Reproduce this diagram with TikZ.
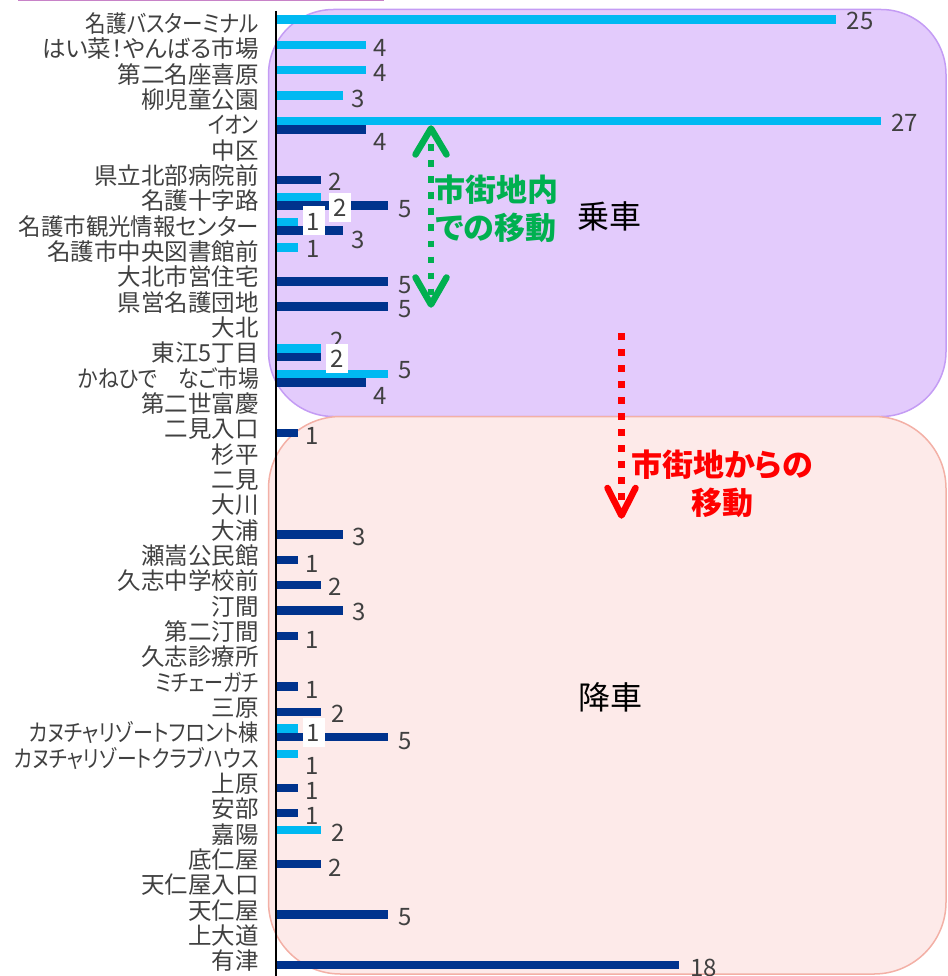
\documentclass[tikz,border=0pt]{standalone}
\usepackage{graphicx}
\usepackage{fontspec}
\newfontfamily\jp[RawFeature=+palt]{Noto Sans CJK JP}
\definecolor{lblue}{RGB}{0,185,242}
\definecolor{dblue}{RGB}{0,51,141}
\definecolor{txtgray}{RGB}{64,64,64}
\definecolor{purpfill}{RGB}{227,203,252}
\definecolor{purpline}{RGB}{196,156,244}
\definecolor{pinkfill}{RGB}{253,234,233}
\definecolor{pinkline}{RGB}{243,176,166}
\definecolor{ggreen}{RGB}{0,176,80}
\definecolor{rred}{RGB}{255,0,0}
\definecolor{topline}{RGB}{200,130,200}
\tikzset{
  catlabel/.style={font=\jp\fontsize{23.5}{28}\selectfont, text=txtgray, anchor=east, inner sep=0pt, text height=20.7pt, text depth=2.8pt},
  vlabel/.style={font=\jp\fontsize{24}{28}\selectfont, text=txtgray, anchor=center, inner sep=0pt, text height=21.1pt, text depth=2.9pt},
  wlabel/.style={vlabel, fill=white, minimum width=22pt, minimum height=29pt},
  purpbox/.style={fill=purpfill, draw=purpline, line width=1.5pt, rounded corners=65pt},
  pinkbox/.style={fill=pinkfill, draw=pinkline, line width=1.5pt, rounded corners=72pt},
  axisline/.style={draw=black, line width=1.8pt},
  lbar/.style={fill=lblue},
  dbar/.style={fill=dblue},
  dotline/.style={line width=6.5pt, dash pattern=on 6.5pt off 9.5pt},
  chevron/.style={line width=6.5pt, line cap=round, line join=round},
  annot/.style={font=\jp\bfseries\fontsize{31}{38}\selectfont, align=center, inner sep=0pt},
  bigtext/.style={font=\jp\fontsize{32}{38}\selectfont, text=black, inner sep=0pt}
}
\begin{document}
\begin{tikzpicture}[x=1pt, y=-1pt]
\useasboundingbox (0,0) rectangle (947,976);
% background regions
\draw[purpbox] (268.5,9.5) rectangle (946,416.5);
\draw[pinkbox] (268.5,416.5) rectangle (946,974);
% top-left cut border
\draw[topline, line width=1.5pt] (18,0.6) -- (384,0.6);
% bars
\foreach \i/\v in {0/25,1/4,2/4,3/3,4/27,7/2,8/1,9/1,13/2,14/5,28/1,29/1,32/2}
  \fill[lbar] (277,{23.7+25.33*\i-8.5}) rectangle ({276+22.4*\v},{23.7+25.33*\i});
\foreach \i/\v in {4/4,6/2,7/5,8/3,10/5,11/5,13/2,14/4,16/1,20/3,21/1,22/2,23/3,24/1,26/1,27/2,28/5,30/1,31/1,33/2,35/5,37/18}
  \fill[dbar] (277,{23.7+25.33*\i}) rectangle ({276+22.4*\v},{23.7+25.33*\i+8.5});
% axis
\coordinate (axtop) at (276,11);
\coordinate (axbot) at (276,976);
\draw[axisline] (axtop) -- (axbot);
% category labels
\foreach \i/\t in {1/はい菜！やんばる市場,2/第二名座喜原,3/柳児童公園,5/中区,6/県立北部病院前,7/名護十字路,9/名護市中央図書館前,10/大北市営住宅,11/県営名護団地,12/大北,13/東江5丁目,15/第二世富慶,16/二見入口,17/杉平,18/二見,19/大川,20/大浦,21/瀬嵩公民館,22/久志中学校前,23/汀間,24/第二汀間,25/久志診療所,27/三原,30/上原,31/安部,32/嘉陽,33/底仁屋,34/天仁屋入口,35/天仁屋,36/上大道,37/有津}
  \node[catlabel] (c\i) at (259,{23.7+25.33*\i}) {\t};
\foreach \i/\w/\t in {0/173/名護バスターミナル,4/51/イオン,8/240/名護市観光情報センター,14/181/かねひで　なご市場,26/103/ミチェーガチ,28/230/カヌチャリゾートフロント棟,29/245/カヌチャリゾートクラブハウス}
  \node[catlabel] (c\i) at (259,{23.7+25.33*\i}) {\resizebox{\w pt}{\height}{\t}};
% value labels
\foreach \n/\x/\y/\t in {v0/860/20.5/25, v1/380.5/47/4, v2/380.5/72.5/4, v3/358.5/98/3, v4a/904.5/122/27, v4b/380.5/141/4, v6/335/181.5/2, v7b/405/208.5/5, v8b/358/239/3, v9/313/248.5/1, v10/405/284/5, v11/405/308.5/5, v13a/337/340/2, v14a/405/369/5, v14b/380.5/395/4, v16/312.5/435/1, v20/359/536.5/3, v21/312/563/1, v22/335/586.5/2, v23/359/611.5/3, v24/312/639/1, v26/312/689/1, v27/338/713/2, v28b/405/740/5, v29/312/765.5/1, v30/312/790.5/1, v31/312/815.5/1, v32/338/832/2, v33/335/867/2, v35/405/916.5/5, v37/703.5/967/18}
  \node[vlabel] (\n) at (\x,\y) {\t};
\foreach \n/\x/\y/\t in {v7a/340/207.5/2, v8a/313.5/221/1, v13b/337/358.5/2, v28a/313.5/732.5/1}
  \node[wlabel] (\n) at (\x,\y) {\t};
% green double arrow
\coordinate (gtop) at (431,128.5);
\coordinate (gbot) at (431,304.5);
\draw[dotline, ggreen] (gtop) -- (gbot);
\draw[chevron, ggreen] ([xshift=-15.5pt,yshift=-26pt]gtop) -- (gtop) -- ([xshift=15.5pt,yshift=-26pt]gtop);
\draw[chevron, ggreen] ([xshift=-15.5pt,yshift=27pt]gbot) -- (gbot) -- ([xshift=15.5pt,yshift=27pt]gbot);
\node[annot, text=ggreen] (gtext) at (496,209) {市街地内\\での移動};
% red arrow
\coordinate (rtop) at (621.5,333);
\coordinate (rbot) at (621.5,515.5);
\draw[dotline, rred] (rtop) -- (rbot);
\draw[chevron, rred] ([xshift=-14pt,yshift=27.5pt]rbot) -- (rbot) -- ([xshift=14pt,yshift=27.5pt]rbot);
\node[annot, text=rred] (rtext) at (722,484) {市街地からの\\移動};
% region titles
\node[bigtext] (board) at (609,216) {乗車};
\node[bigtext] (alight) at (610,697) {降車};
\end{tikzpicture}
\end{document}
